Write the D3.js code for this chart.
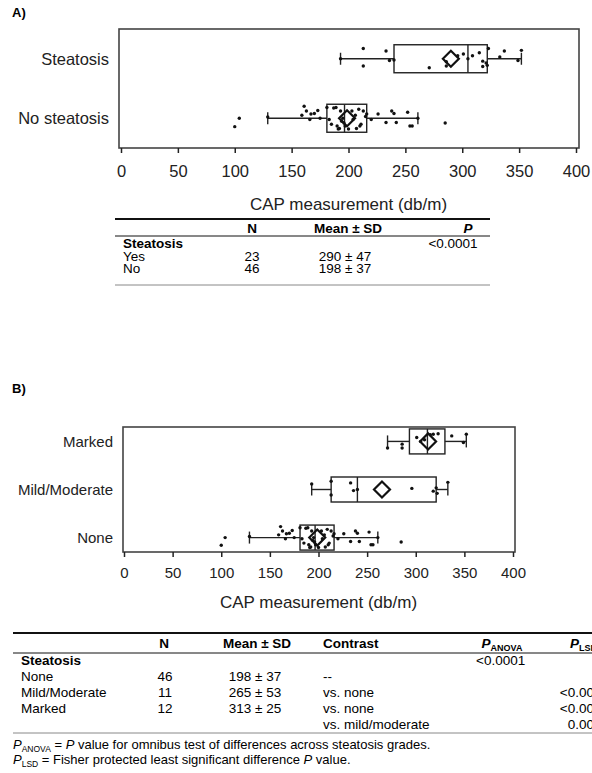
<!DOCTYPE html>
<html>
<head>
<meta charset="utf-8">
<script src="https://cdn.jsdelivr.net/npm/d3@7"></script>
<style>
  body { margin: 0; background: #fff; }
  svg { display: block; }
</style>
</head>
<body>
<div id="chart-area"></div>
<script>
// ---- data ----
var ticks = [0, 50, 100, 150, 200, 250, 300, 350, 400];

// CAP values (db/m) by steatosis grade
var noneValues = [100, 104, 129, 159, 161, 163, 166, 167, 170, 173, 175, 181, 183, 185, 187, 189,
    190, 191, 192, 193, 194, 195, 196, 197, 200, 203, 204, 206, 207, 209, 210, 211, 213, 215, 216,
    220, 226, 233, 238, 240, 242, 252, 254, 256, 261, 285];
var noneJitter = [0.7, 0, -0.1, -0.25, -1, -0.6, 0.1, -0.35, -0.4, -0.65, 0, -0.9, 0.1, 0.5, -0.85, -0.9,
    0.65, 0.9, 0.85, -0.6, 0.25, 0, 0.4, 0.65, 0.9, -0.6, 0.1, -0.25, 0.85, -0.75, 0.65, 0.5, -0.6, -0.15, -0.35,
    0.1, -0.35, 0.35, -0.6, -0.4, 0.35, -0.5, 0.65, 0.65, 0, 0.4];

var mildValues = [193, 213, 213, 233, 236, 240, 296, 318, 321, 322, 333];
var mildJitter = [-0.5, -0.75, 0.5, -0.6, 0.1, 0, -0.1, 0.15, -0.15, 0.35, -0.65];

var markedValues = [271, 286, 286, 301, 305, 309, 315, 318, 323, 337, 349, 352];
var markedJitter = [0.6, 0.25, 0.6, -0.35, 0, -0.15, -0.6, -0.65, -0.7, -0.5, 0.1, -0.65];

// panel A: steatosis yes = mild/moderate + marked
var steatosisValues = mildValues.concat(markedValues);
var steatosisJitter = [0, -0.85, 0.6, -0.65, 0.15, 0.1, -0.25, 0.2, 0.35, 0.55, -0.15,
    0.75, 0.25, 0.6, -0.4, 0, -0.25, -0.5, 0.65, -0.85, -0.65, 0.15, -0.7];

var catsA = ["Steatosis", "No steatosis"];
var catsB = ["Marked", "Mild/Moderate", "None"];

var headerA = ["", "N", "Mean \u00b1 SD", "P"];
var rowsA = [
    ["Steatosis", "", "", "<0.0001"],
    ["Yes", "23", "290 \u00b1 47", ""],
    ["No", "46", "198 \u00b1 37", ""]
];

var headerB = ["", "N", "Mean \u00b1 SD", "Contrast", "ANOVA", "LSD"];
var rowsB = [
    ["Steatosis", "", "", "", "<0.0001", ""],
    ["None", "46", "198 \u00b1 37", "--", "", ""],
    ["Mild/Moderate", "11", "265 \u00b1 53", "vs. none", "", "<0.0001"],
    ["Marked", "12", "313 \u00b1 25", "vs. none", "", "<0.0001"],
    ["", "", "", "vs. mild/moderate", "", "0.0002"]
];

var font = "'Liberation Sans', Arial, Helvetica, sans-serif";

var svg = d3.select("#chart-area")
    .append("svg")
        .attr("width", 592)
        .attr("height", 773)
        .style("font-family", font);

svg.append("rect").attr("width", 592).attr("height", 773).attr("fill", "#fff");

// SAS style quartile (definition 5)
function pctl(sorted, p) {
    var n = sorted.length, np = n * p, j = Math.floor(np);
    if (np === j) return (sorted[j - 1] + sorted[j]) / 2;
    return sorted[j];
}

function stats(values) {
    var s = values.slice().sort(d3.ascending);
    var q1 = pctl(s, 0.25), med = pctl(s, 0.5), q3 = pctl(s, 0.75);
    var iqr = q3 - q1;
    var lo = d3.min(s.filter(function(v) { return v >= q1 - 1.5 * iqr; }));
    var hi = d3.max(s.filter(function(v) { return v <= q3 + 1.5 * iqr; }));
    return { q1: q1, med: med, q3: q3, lo: lo, hi: hi, mean: d3.mean(s) };
}

function boxPanel(p) {
    var g = svg.append("g");

    var x = d3.scaleLinear().domain([0, 400]).range([p.x0, p.x1]);
    var y = d3.scalePoint().domain(p.cats).range([p.top, p.bottom]).padding(p.pad);

    // frame
    g.append("rect")
        .attr("x", p.left)
        .attr("y", p.top)
        .attr("width", p.right - p.left)
        .attr("height", p.bottom - p.top)
        .attr("fill", "none")
        .attr("stroke", "#444")
        .attr("stroke-width", 1.6);

    var xAxisCall = d3.axisBottom(x)
        .tickValues(ticks)
        .tickSize(5)
        .tickPadding(p.tickPad);

    var ax = g.append("g")
        .attr("transform", "translate(0," + p.bottom + ")")
        .call(xAxisCall);
    ax.select(".domain").remove();
    ax.selectAll("line").attr("stroke", "#222").attr("stroke-width", 1.5);
    ax.selectAll("text")
        .attr("fill", "#222")
        .style("font-family", font)
        .style("font-size", p.tickFont + "px");

    // category labels
    g.selectAll(".cat")
        .data(p.cats).enter()
        .append("text")
            .attr("x", p.left - 10)
            .attr("y", function(d) { return y(d); })
            .attr("dy", "0.35em")
            .attr("text-anchor", "end")
            .attr("font-size", p.catFont + "px")
            .attr("fill", "#222")
            .text(function(d) { return d; });

    // axis title
    g.append("text")
        .attr("x", (p.x0 + p.x1) / 2)
        .attr("y", p.titleY)
        .attr("text-anchor", "middle")
        .attr("font-size", p.titleFont + "px")
        .attr("fill", "#222")
        .text("CAP measurement (db/m)");

    p.groups.forEach(function(grp, i) {
        var cy = y(p.cats[i]);
        var st = stats(grp.values);
        var h = p.boxH;

        g.append("line")
            .attr("x1", x(st.lo)).attr("x2", x(st.q1))
            .attr("y1", cy).attr("y2", cy)
            .attr("stroke", "#222").attr("stroke-width", 1.4);
        g.append("line")
            .attr("x1", x(st.q3)).attr("x2", x(st.hi))
            .attr("y1", cy).attr("y2", cy)
            .attr("stroke", "#222").attr("stroke-width", 1.4);
        [st.lo, st.hi].forEach(function(v) {
            g.append("line")
                .attr("x1", x(v)).attr("x2", x(v))
                .attr("y1", cy - p.capH).attr("y2", cy + p.capH)
                .attr("stroke", "#222").attr("stroke-width", 1.4);
        });

        g.append("rect")
            .attr("x", x(st.q1))
            .attr("y", cy - h)
            .attr("width", x(st.q3) - x(st.q1))
            .attr("height", 2 * h)
            .attr("fill", "none")
            .attr("stroke", "#222")
            .attr("stroke-width", 1.4);
        g.append("line")
            .attr("x1", x(st.med)).attr("x2", x(st.med))
            .attr("y1", cy - h).attr("y2", cy + h)
            .attr("stroke", "#222").attr("stroke-width", 1.4);

        // mean diamond
        var mx = x(st.mean), d = p.diam;
        g.append("path")
            .attr("d", "M" + (mx - d) + "," + cy + "L" + mx + "," + (cy - d) +
                "L" + (mx + d) + "," + cy + "L" + mx + "," + (cy + d) + "Z")
            .attr("fill", "none")
            .attr("stroke", "#111")
            .attr("stroke-width", 2.2);

        // points
        g.selectAll(".pt" + i)
            .data(grp.values).enter()
            .append("circle")
                .attr("cx", function(v) { return x(v); })
                .attr("cy", function(v, j) { return cy + grp.jitter[j] * p.jit; })
                .attr("r", 1.7)
                .attr("fill", "#111");
    });
}

// ---- Panel A ----
svg.append("text").attr("x", 12).attr("y", 17)
    .attr("font-size", "13px").attr("font-weight", "bold").text("A)");

boxPanel({
    left: 119, right: 579, top: 29, bottom: 148,
    x0: 121, x1: 576, pad: 0.5,
    cats: catsA,
    groups: [
        { values: steatosisValues, jitter: steatosisJitter },
        { values: noneValues, jitter: noneJitter }
    ],
    boxH: 14, capH: 6, diam: 8, jit: 12,
    tickPad: 12, tickFont: 16.5, catFont: 16.5, titleFont: 17, titleY: 210
});

// Table A
var colA = [{ x: 123, a: "start" }, { x: 252, a: "middle" }, { x: 348, a: "middle" }, { x: 468, a: "middle" }];
var colAdata = [{ x: 123, a: "start" }, { x: 252, a: "middle" }, { x: 345, a: "middle" }, { x: 453, a: "middle" }];

svg.append("line").attr("x1", 115).attr("x2", 490).attr("y1", 219).attr("y2", 219)
    .attr("stroke", "#111").attr("stroke-width", 2);
svg.append("line").attr("x1", 115).attr("x2", 490).attr("y1", 236).attr("y2", 236)
    .attr("stroke", "#111").attr("stroke-width", 1);
svg.append("line").attr("x1", 115).attr("x2", 490).attr("y1", 285).attr("y2", 285)
    .attr("stroke", "#888").attr("stroke-width", 1);

headerA.forEach(function(t, i) {
    svg.append("text")
        .attr("x", colA[i].x).attr("y", 233)
        .attr("text-anchor", colA[i].a)
        .attr("font-size", "13.5px").attr("font-weight", "bold")
        .attr("font-style", t === "P" ? "italic" : "normal")
        .text(t);
});
rowsA.forEach(function(r, ri) {
    r.forEach(function(t, i) {
        svg.append("text")
            .attr("x", colAdata[i].x).attr("y", 248 + ri * 12.5)
            .attr("text-anchor", colAdata[i].a)
            .attr("font-size", "13.5px")
            .attr("font-weight", ri === 0 && i === 0 ? "bold" : "normal")
            .text(t);
    });
});

// ---- Panel B ----
svg.append("text").attr("x", 12).attr("y", 393)
    .attr("font-size", "13px").attr("font-weight", "bold").text("B)");

boxPanel({
    left: 123, right: 515, top: 427, bottom: 552,
    x0: 124, x1: 513, pad: 0.3,
    cats: catsB,
    groups: [
        { values: markedValues, jitter: markedJitter },
        { values: mildValues, jitter: mildJitter },
        { values: noneValues, jitter: noneJitter }
    ],
    boxH: 12.5, capH: 6, diam: 8, jit: 11,
    tickPad: 10, tickFont: 15, catFont: 15, titleFont: 17, titleY: 608
});

// Table B
var colB = [{ x: 21, a: "start" }, { x: 164, a: "middle" }, { x: 257, a: "middle" }, { x: 323, a: "start" }, { x: 502, a: "middle" }, { x: 570, a: "start" }];
var colBdata = [{ x: 21, a: "start" }, { x: 165, a: "middle" }, { x: 255, a: "middle" }, { x: 323, a: "start" }, { x: 476, a: "start" }, { x: 609, a: "end" }];

svg.append("line").attr("x1", 13).attr("x2", 592).attr("y1", 633).attr("y2", 633)
    .attr("stroke", "#111").attr("stroke-width", 2);
svg.append("line").attr("x1", 13).attr("x2", 592).attr("y1", 653).attr("y2", 653)
    .attr("stroke", "#111").attr("stroke-width", 1);
svg.append("line").attr("x1", 13).attr("x2", 592).attr("y1", 733).attr("y2", 733)
    .attr("stroke", "#888").attr("stroke-width", 1);

headerB.forEach(function(t, i) {
    var txt = svg.append("text")
        .attr("x", colB[i].x).attr("y", 648)
        .attr("text-anchor", colB[i].a)
        .attr("font-size", "13.5px").attr("font-weight", "bold");
    if (i >= 4) {
        txt.append("tspan").attr("font-style", "italic").text("P");
        txt.append("tspan").attr("font-size", "9px").attr("dy", 3).text(t);
    } else {
        txt.text(t);
    }
});
rowsB.forEach(function(r, ri) {
    r.forEach(function(t, i) {
        svg.append("text")
            .attr("x", colBdata[i].x).attr("y", 665 + ri * 16)
            .attr("text-anchor", colBdata[i].a)
            .attr("font-size", "13.5px")
            .attr("font-weight", ri === 0 && i === 0 ? "bold" : "normal")
            .text(t);
    });
});

// footnotes
var notes = [
    ["ANOVA", " = ", "P", " value for omnibus test of differences across steatosis grades."],
    ["LSD", " = Fisher protected least significant difference ", "P", " value."]
];
notes.forEach(function(n, i) {
    var t = svg.append("text")
        .attr("x", 13).attr("y", 749 + i * 15)
        .attr("font-size", "13px");
    t.append("tspan").attr("font-style", "italic").text("P");
    t.append("tspan").attr("font-size", "8.5px").attr("dy", 3).text(n[0]);
    t.append("tspan").attr("dy", -3).text(n[1]);
    t.append("tspan").attr("font-style", "italic").text(n[2]);
    t.append("tspan").text(n[3]);
});
</script>
</body>
</html>
